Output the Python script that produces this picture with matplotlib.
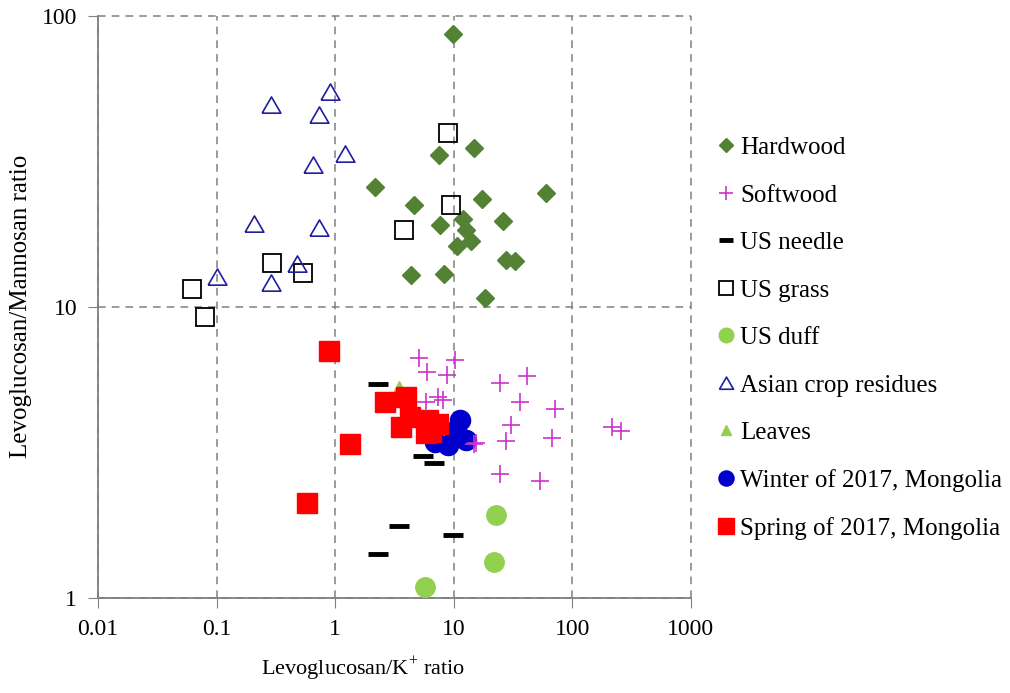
import matplotlib
matplotlib.use('Agg')
import matplotlib.pyplot as plt
from matplotlib.lines import Line2D

plt.rcParams['font.family'] = ['Liberation Serif', 'DejaVu Serif']
plt.rcParams['mathtext.fontset'] = 'custom'
plt.rcParams['mathtext.rm'] = 'Liberation Serif'

# Levoglucosan/K+ (x) and Levoglucosan/Mannosan (y)
hardwood_x = [9.8, 14.7, 7.5, 2.16, 59.5, 17.4, 4.6, 26.3, 7.6, 11.9, 12.7, 14.0, 10.6, 27.7, 32.8, 4.38, 8.26, 18.2]
hardwood_y = [87, 35.1, 33.3, 25.9, 24.7, 23.5, 22.4, 19.8, 19.1, 20.0, 18.4, 16.9, 16.2, 14.5, 14.4, 12.9, 13.0, 10.7]

softwood_x = [5.08, 10.2, 5.93, 8.74, 7.34, 5.85, 8.05, 15.5, 24.4, 41.7, 35.9, 71, 30.7, 27.4, 67.8, 24.4, 53.7, 218, 260, 14.9]
softwood_y = [6.65, 6.57, 5.98, 5.83, 4.91, 4.71, 4.78, 3.39, 5.48, 5.8, 4.71, 4.44, 3.92, 3.46, 3.55, 2.67, 2.52, 3.87, 3.74, 3.37]

needle_x = [2.29, 5.49, 6.79, 3.49, 2.31, 9.83, 5.5]
needle_y = [5.41, 3.06, 2.90, 1.76, 1.41, 1.64, 4.2]

grass_x = [9.0, 9.4, 3.79, 0.294, 0.533, 0.062, 0.0805]
grass_y = [39.5, 22.4, 18.4, 14.2, 13.1, 11.5, 9.2]

duff_x = [22.8, 21.8, 5.74]
duff_y = [1.92, 1.33, 1.09]

crop_x = [0.908, 0.288, 0.737, 1.21, 0.647, 0.208, 0.727, 0.100, 0.474, 0.288]
crop_y = [54.8, 49.4, 45.8, 33.6, 30.8, 19.3, 18.7, 12.7, 14.0, 12.1]

leaves_x = [3.44]
leaves_y = [5.3]

winter_x = [11.2, 12.7, 8.94, 6.89, 10.5]
winter_y = [4.07, 3.48, 3.34, 3.43, 3.77]

spring_x = [0.895, 1.34, 0.584, 2.61, 3.97, 4.24, 3.61, 6.04, 6.46, 7.34, 5.86]
spring_y = [7.07, 3.37, 2.11, 4.72, 4.91, 4.19, 3.87, 4.08, 3.72, 3.97, 3.67]

# marker styles per series
tri = [(-0.55, -0.45), (0.55, -0.45), (0, 0.5), (-0.55, -0.45)]
series = [
    ('Hardwood', hardwood_x, hardwood_y, dict(marker='D', ms=9.5, color='#548235', mec='#548235', zorder=3)),
    ('Softwood', softwood_x, softwood_y, dict(marker='+', ms=13, mew=1.2, color='#CC33CC', zorder=7)),
    ('US needle', needle_x, needle_y, dict(marker='_', ms=14, mew=3.5, color='black', zorder=3)),
    ('US grass', grass_x, grass_y, dict(marker='s', ms=13.5, mew=1.3, mfc='none', mec='black', color='black', zorder=4)),
    ('US duff', duff_x, duff_y, dict(marker='o', ms=14, color='#92D050', mec='#92D050', zorder=3)),
    ('Asian crop residues', crop_x, crop_y, dict(marker=tri, ms=13.5, mew=1.2, mfc='none', mec='#1F1F9F', color='#1F1F9F', zorder=4)),
    ('Leaves', leaves_x, leaves_y, dict(marker='^', ms=9, color='#92D050', mec='#92D050', zorder=3)),
    ('Winter of 2017, Mongolia', winter_x, winter_y, dict(marker='o', ms=14.5, color='#0000CC', mec='#0000CC', zorder=5)),
    ('Spring of 2017, Mongolia', spring_x, spring_y, dict(marker='s', ms=14.5, color='#FF0000', mec='#FF0000', zorder=6)),
]

fig = plt.figure(figsize=(10.1, 6.93), dpi=100)
ax = fig.add_axes([0.097, 0.1375, 0.587, 0.8395])

handles = []
for name, xs, ys, st in series:
    ax.plot(xs, ys, linestyle='none', **st)
    hst = dict(st)
    hst.pop('zorder')
    hst['ms'] = st['ms'] * 0.75
    handles.append(Line2D([], [], linestyle='none', label=name, **hst))

ax.set_xscale('log')
ax.set_yscale('log')
ax.set_xlim(0.01, 1000)
ax.set_ylim(1, 100)
ax.set_xticks([0.01, 0.1, 1, 10, 100, 1000])
ax.set_xticklabels(['0.01', '0.1', '1', '10', '100', '1000'])
ax.set_yticks([1, 10, 100])
ax.set_yticklabels(['1', '10', '100'])
ax.minorticks_off()
ax.tick_params(direction='out', length=7, color='#808080', labelsize=17, pad=8)

ax.grid(True, which='major', linestyle=(0, (5, 4)), color='#808080', linewidth=1.1)
for s in ['top', 'right']:
    ax.spines[s].set_visible(False)
for s in ['left', 'bottom']:
    ax.spines[s].set_color('#808080')
    ax.spines[s].set_linewidth(1.3)
ax.set_axisbelow(True)
for gl in ax.get_xgridlines() + ax.get_ygridlines():
    gl.set_clip_on(False)

ax.set_xlabel('Levoglucosan/K$^{+}$ ratio', fontsize=16)
ax.xaxis.set_label_coords(0.447, -0.098)
ax.set_ylabel('Levoglucosan/Mannosan ratio', fontsize=18)
ax.yaxis.set_label_coords(-0.111, 0.5)

fig.legend(handles=handles, loc='upper left', bbox_to_anchor=(0.697, 0.821), frameon=False,
           fontsize=18, labelspacing=1.0, handlelength=0.8, handletextpad=0.15, borderpad=0)

fig.savefig('out.png', dpi=100)
